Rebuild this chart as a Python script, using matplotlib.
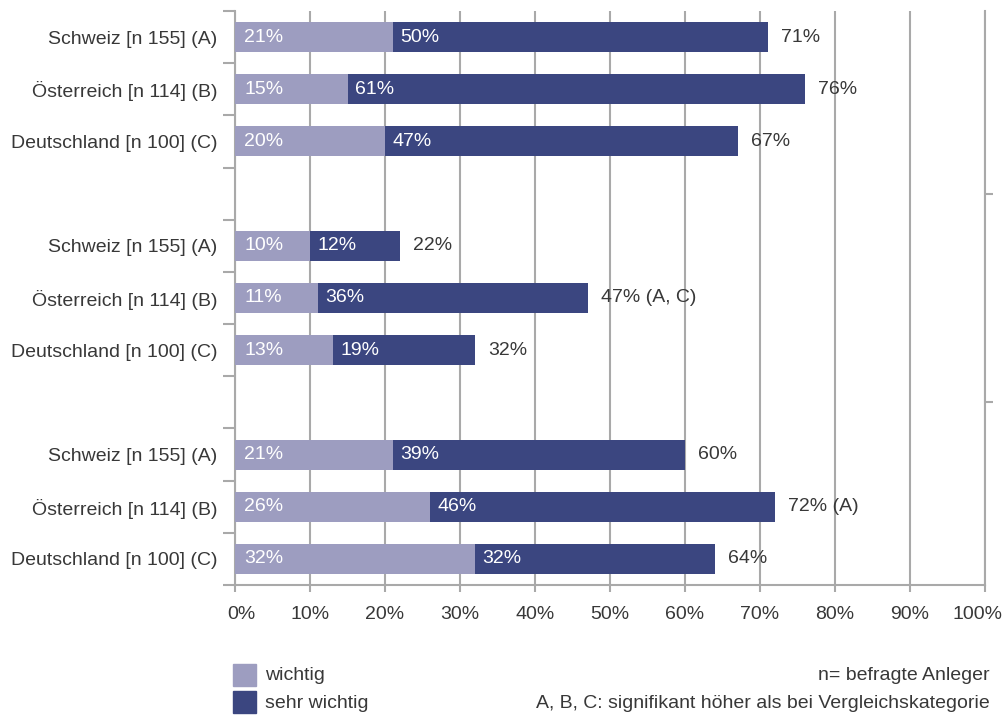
import matplotlib
matplotlib.use("Agg")
import matplotlib.pyplot as plt
import matplotlib.transforms as mtransforms
from matplotlib.patches import Rectangle

plt.rcParams["font.family"] = ["Liberation Sans", "DejaVu Sans"]

# --- data -------------------------------------------------------------
countries = ["Schweiz [n 155] (A)", "Österreich [n 114] (B)", "Deutschland [n 100] (C)"]
n_groups = 3
wichtig = [21, 15, 20, 10, 11, 13, 21, 26, 32]
sehr_wichtig = [50, 61, 47, 12, 36, 19, 39, 46, 32]
total_suffix = ["", "", "", "", " (A, C)", "", "", " (A)", ""]
x_ticks = [0, 10, 20, 30, 40, 50, 60, 70, 80, 90, 100]
x_tick_labels = [f"{v}%" for v in x_ticks]
legend_labels = ["wichtig", "sehr wichtig"]
notes = ["n= befragte Anleger", "A, B, C: signifikant höher als bei Vergleichskategorie"]

# --- style ------------------------------------------------------------
c_light = "#9d9dc0"
c_dark = "#3b4680"
c_grid = "#a9a9a9"
c_text = "#383838"
fs = 14

W, H = 1002, 715
fig = plt.figure(figsize=(W / 100, H / 100), dpi=100)
ax = fig.add_axes([235 / W, 1 - 585 / H, 750 / W, 574 / H])

# bar slots: three per group, one empty slot between groups
positions = []
labels = []
for g in range(n_groups):
    for i, c in enumerate(countries):
        positions.append(g * 4 + i)
        labels.append(c)
n_slots = n_groups * 4 - 1

bar_h = 0.575
ax.barh(positions, wichtig, height=bar_h, color=c_light, zorder=3)
ax.barh(positions, sehr_wichtig, left=wichtig, height=bar_h, color=c_dark, zorder=3)

for p, a, b, suf in zip(positions, wichtig, sehr_wichtig, total_suffix):
    ax.annotate(f"{a}%", (0, p), xytext=(6.5, 0), textcoords="offset points",
                va="center", ha="left", color="white", fontsize=fs, zorder=4)
    ax.annotate(f"{b}%", (a, p), xytext=(5.5, 0), textcoords="offset points",
                va="center", ha="left", color="white", fontsize=fs, zorder=4)
    ax.annotate(f"{a + b}%{suf}", (a + b, p), xytext=(9.5, 0), textcoords="offset points",
                va="center", ha="left", color=c_text, fontsize=fs, zorder=4)

ax.set_xlim(0, 100)
ax.set_ylim(n_slots - 0.5, -0.5)

# x axis
ax.set_xticks(x_ticks)
ax.set_xticklabels(x_tick_labels)
ax.tick_params(axis="x", direction="out", length=5, width=1.5, color=c_grid,
               labelsize=fs, labelcolor=c_text, pad=10)
ax.xaxis.grid(True, color=c_grid, linewidth=1.5, zorder=1)
# nudge the outermost labels inward
xlabels = ax.get_xticklabels()
xlabels[0].set_transform(xlabels[0].get_transform() +
                         mtransforms.ScaledTranslation(6 / 100, 0, fig.dpi_scale_trans))
xlabels[-1].set_transform(xlabels[-1].get_transform() +
                          mtransforms.ScaledTranslation(-8 / 100, 0, fig.dpi_scale_trans))

# y axis: category labels, tick marks between every slot
ax.set_yticks(positions)
ax.set_yticklabels(labels)
ax.tick_params(axis="y", which="major", length=0, pad=12.5, labelsize=fs, labelcolor=c_text)
ax.set_yticks([k - 0.5 for k in range(n_slots + 1)], minor=True)
ax.tick_params(axis="y", which="minor", direction="out", length=8.5, width=1.5, color=c_grid)

for side in ["left", "bottom", "right"]:
    ax.spines[side].set_color(c_grid)
    ax.spines[side].set_linewidth(1.5)
ax.spines["top"].set_visible(False)
ax.set_axisbelow(True)

# marks at the gaps between groups on the right edge
sec = ax.secondary_yaxis("right")
sec.set_yticks([g * 4 + 3 for g in range(n_groups - 1)])
sec.set_yticklabels([])
sec.tick_params(axis="y", direction="out", length=6, width=1.5, color=c_grid)
sec.spines["right"].set_visible(False)

# legend and notes
for k, (lab, col) in enumerate(zip(legend_labels, [c_light, c_dark])):
    y0 = 664 + k * 27
    fig.patches.append(Rectangle((233 / W, 1 - (y0 + 22) / H), 23 / W, 22 / H,
                                 transform=fig.transFigure, color=col))
    fig.text(265 / W, 1 - (y0 + 12) / H, lab, ha="left", va="center",
             fontsize=fs, color=c_text)
for k, note in enumerate(notes):
    fig.text(990 / W, 1 - (676 + k * 27) / H, note, ha="right", va="center",
             fontsize=fs, color=c_text)

fig.savefig("out.png", dpi=100)
